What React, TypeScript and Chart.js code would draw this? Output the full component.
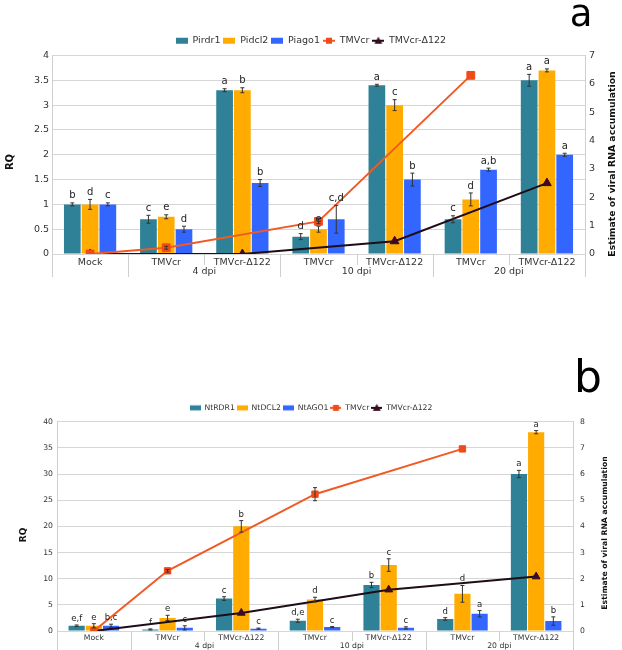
import React, { useEffect, useRef } from 'react';
import { Chart, registerables } from 'chart.js';
Chart.register(...registerables);

const FONT = "'DejaVu Sans', 'Noto Sans', sans-serif";
Chart.defaults.font.family = FONT;

// ---------- shared categories ----------
const categories = ['Mock', 'TMVcr', 'TMVcr-Δ122', 'TMVcr', 'TMVcr-Δ122', 'TMVcr', 'TMVcr-Δ122'];
const dpiGroups = ['', '4 dpi', '4 dpi', '10 dpi', '10 dpi', '20 dpi', '20 dpi'];

// ---------- panel a ----------
const aBarNames = ['Pirdr1', 'Pidcl2', 'Piago1'];
const aPirdr1 = [1.0, 0.7, 3.3, 0.35, 3.4, 0.7, 3.5];
const aPirdr1Err = [0.03, 0.08, 0.03, 0.06, 0.02, 0.07, 0.12];
const aPirdr1Letters = ['b', 'c', 'a', 'd', 'a', 'c', 'a'];
const aPidcl2 = [1.0, 0.75, 3.3, 0.5, 3.0, 1.1, 3.7];
const aPidcl2Err = [0.1, 0.04, 0.05, 0.06, 0.11, 0.13, 0.03];
const aPidcl2Letters = ['d', 'e', 'b', 'e', 'c', 'd', 'a'];
const aPiago1 = [1.0, 0.5, 1.43, 0.7, 1.5, 1.7, 2.0];
const aPiago1Err = [0.03, 0.06, 0.07, 0.28, 0.13, 0.03, 0.03];
const aPiago1Letters = ['c', 'd', 'b', 'c,d', 'b', 'a,b', 'a'];
const aLineNames = ['TMVcr', 'TMVcr-Δ122'];
const aTmvcr = [0, 0.22, null, 1.15, null, 6.3, null];
const aTmvcrErr = [0, 0.05, null, 0.08, null, 0, null];
const aDelta = [0, null, 0, null, 0.45, null, 2.5];
const aDeltaErr = [0, null, 0, null, 0, null, 0];

// ---------- panel b ----------
const bBarNames = ['NtRDR1', 'NtDCL2', 'NtAGO1'];
const bNtrdr1 = [1.0, 0.3, 6.2, 1.95, 8.8, 2.3, 30.0];
const bNtrdr1Err = [0.15, 0.1, 0.35, 0.3, 0.5, 0.25, 0.7];
const bNtrdr1Letters = ['e,f', 'f', 'c', 'd,e', 'b', 'd', 'a'];
const bNtdcl2 = [1.0, 2.5, 20.0, 6.0, 12.6, 7.1, 38.0];
const bNtdcl2Err = [0.4, 0.5, 1.1, 0.45, 1.2, 1.6, 0.3];
const bNtdcl2Letters = ['e', 'e', 'b', 'd', 'c', 'd', 'a'];
const bNtago1 = [1.0, 0.6, 0.45, 0.75, 0.6, 3.3, 1.9];
const bNtago1Err = [0.3, 0.4, 0.1, 0.1, 0.2, 0.6, 0.8];
const bNtago1Letters = ['b,c', 'c', 'c', 'c', 'c', 'a', 'b'];
const bLineNames = ['TMVcr', 'TMVcr-Δ122'];
const bTmvcr = [0, 2.3, null, 5.23, null, 6.96, null];
const bTmvcrErr = [0, 0.05, null, 0.25, null, 0, null];
const bDelta = [0, null, 0.69, null, 1.58, null, 2.08];
const bDeltaErr = [0, null, 0, null, 0, null, 0];

const TEAL = '#2e8196';
const GOLD = '#ffab00';
const BLUE = '#3366ff';
const RED = '#f15a24';
const RED_MARK = '#f04a1a';
const DARK = '#1e0c18';
const DARK_MARK = '#3a0b22';

type Panel = {
  height: number;
  bars: { name: string; values: number[]; errors: number[]; letters: string[]; color: string }[];
  lines: { name: string; values: (number | null)[]; errors: (number | null)[]; color: string; marker: string; style: string; radius: number }[];
  yMax: number; yStep: number; y1Max: number; y1Step: number;
  font: number; letterFont: number;
  leftW: number; rightW: number; bottomH: number; padTop: number; legendPad: number;
  leftTickPad: number; rightTickPad: number; xTickPad: number;
  boxW: number; boxH: number;
  rqX: number; rqY: number; rqFont: number;
  rtX: number; rtY: number; rtFont: number;
  groupDy: number; longSep: number; shortSep: number;
  tag: string; tagX: number; tagY: number; tagFont: number;
};

function legendIcon(kind: string, color: string, marker: string, style: string, w: number, bh: number) {
  const h = 10;
  const c = document.createElement('canvas');
  c.width = w; c.height = h;
  const g = c.getContext('2d')!;
  if (kind === 'bar') {
    g.fillStyle = color;
    g.fillRect(0, (h - bh) / 2, w, bh);
  } else {
    g.strokeStyle = color; g.lineWidth = 2;
    g.beginPath(); g.moveTo(0, h / 2); g.lineTo(w, h / 2); g.stroke();
    g.fillStyle = marker;
    if (style === 'rect') {
      g.fillRect(w / 2 - 3, h / 2 - 3, 6, 6);
    } else {
      g.beginPath(); g.moveTo(w / 2, h / 2 - 4); g.lineTo(w / 2 + 4, h / 2 + 3); g.lineTo(w / 2 - 4, h / 2 + 3); g.closePath(); g.fill();
    }
  }
  return c;
}

function makeExtras(p: Panel) {
  return {
    id: 'extras',
    afterDatasetsDraw(chart: any) {
      const ctx = chart.ctx;
      const ys = chart.scales.y, y1 = chart.scales.y1;
      ctx.save();
      ctx.strokeStyle = '#333'; ctx.lineWidth = 1;
      ctx.fillStyle = '#222';
      ctx.font = `${p.letterFont}px ${FONT}`;
      ctx.textAlign = 'center'; ctx.textBaseline = 'bottom';
      p.bars.forEach((b, di) => {
        const meta = chart.getDatasetMeta(di);
        b.values.forEach((v, i) => {
          const el = meta.data[i];
          const e = b.errors[i];
          const top = ys.getPixelForValue(v + e);
          const bot = ys.getPixelForValue(Math.max(0, v - e));
          ctx.beginPath();
          ctx.moveTo(el.x, top); ctx.lineTo(el.x, bot);
          ctx.moveTo(el.x - 2, top); ctx.lineTo(el.x + 2, top);
          ctx.moveTo(el.x - 2, bot); ctx.lineTo(el.x + 2, bot);
          ctx.stroke();
          ctx.fillText(b.letters[i], el.x, top - 2);
        });
      });
      p.lines.forEach((l, li) => {
        const meta = chart.getDatasetMeta(p.bars.length + li);
        l.values.forEach((v, i) => {
          const e = l.errors[i];
          if (v == null || !e) return;
          const el = meta.data[i];
          const top = y1.getPixelForValue(v + e);
          const bot = y1.getPixelForValue(v - e);
          ctx.beginPath();
          ctx.moveTo(el.x, top); ctx.lineTo(el.x, bot);
          ctx.moveTo(el.x - 2, top); ctx.lineTo(el.x + 2, top);
          ctx.moveTo(el.x - 2, bot); ctx.lineTo(el.x + 2, bot);
          ctx.stroke();
        });
      });
      ctx.restore();
    },
    afterDraw(chart: any) {
      const ctx = chart.ctx;
      const xs = chart.scales.x;
      const ca = chart.chartArea;
      ctx.save();
      ctx.strokeStyle = '#cfcfcf'; ctx.lineWidth = 1;
      const seps: [number, boolean][] = [[ca.left, true], [ca.right, true]];
      for (let i = 0; i < categories.length - 1; i++) {
        const xm = (xs.getPixelForValue(i) + xs.getPixelForValue(i + 1)) / 2;
        seps.push([xm, dpiGroups[i] !== dpiGroups[i + 1]]);
      }
      seps.forEach(([sx, long]) => {
        const xx = Math.round(sx) + 0.5;
        ctx.beginPath();
        ctx.moveTo(xx, ca.bottom);
        ctx.lineTo(xx, ca.bottom + (long ? p.longSep : p.shortSep));
        ctx.stroke();
      });
      ctx.fillStyle = '#333';
      ctx.font = `${p.font}px ${FONT}`;
      ctx.textAlign = 'center'; ctx.textBaseline = 'middle';
      const seen: string[] = [];
      dpiGroups.forEach((g) => {
        if (!g || seen.includes(g)) return;
        seen.push(g);
        const idx = dpiGroups.map((d, i) => (d === g ? i : -1)).filter((i) => i >= 0);
        const cx = idx.reduce((s, i) => s + xs.getPixelForValue(i), 0) / idx.length;
        ctx.fillText(g, cx, ca.bottom + p.groupDy);
      });
      // axis titles
      ctx.fillStyle = '#111';
      ctx.font = `bold ${p.rqFont}px ${FONT}`;
      ctx.save(); ctx.translate(p.rqX, p.rqY); ctx.rotate(-Math.PI / 2); ctx.fillText('RQ', 0, 0); ctx.restore();
      ctx.font = `bold ${p.rtFont}px ${FONT}`;
      ctx.save(); ctx.translate(p.rtX, p.rtY); ctx.rotate(-Math.PI / 2); ctx.fillText('Estimate of viral RNA accumulation', 0, 0); ctx.restore();
      // panel tag
      ctx.fillStyle = '#000';
      ctx.font = `${p.tagFont}px ${FONT}`;
      ctx.textBaseline = 'alphabetic';
      ctx.fillText(p.tag, p.tagX, p.tagY);
      ctx.restore();
    },
  };
}

const fmt = (v: any) => String(Number(v));

function buildChart(canvas: HTMLCanvasElement, p: Panel) {
  const datasets: any[] = [
    ...p.bars.map((b) => ({
      type: 'bar', label: b.name, data: b.values, backgroundColor: b.color, borderWidth: 0,
      yAxisID: 'y', order: 2, barPercentage: 0.94, categoryPercentage: 0.7,
    })),
    ...p.lines.map((l) => ({
      type: 'line', label: l.name, data: l.values, borderColor: l.color, backgroundColor: l.marker,
      pointBackgroundColor: l.marker, pointBorderColor: l.marker, pointBorderWidth: 1,
      pointStyle: l.style, pointRadius: l.radius, borderWidth: 2, spanGaps: true,
      yAxisID: 'y1', order: 1, tension: 0,
    })),
  ];
  const tickFont = { size: p.font, family: FONT };
  return new Chart(canvas, {
    type: 'bar',
    data: { labels: categories, datasets },
    options: {
      responsive: false,
      animation: false,
      layout: { padding: { top: p.padTop, left: 0, right: 0, bottom: 0 } },
      plugins: {
        tooltip: { enabled: false },
        legend: {
          position: 'top',
          labels: {
            usePointStyle: true,
            pointStyleWidth: p.boxW,
            padding: p.legendPad,
            color: '#333',
            font: { size: p.font, family: FONT },
            generateLabels: () => [
              ...p.bars.map((b, i) => ({
                text: b.name, fillStyle: b.color, strokeStyle: b.color, lineWidth: 0, hidden: false, datasetIndex: i,
                pointStyle: legendIcon('bar', b.color, b.color, '', p.boxW, p.boxH), fontColor: '#333',
              })),
              ...p.lines.map((l, i) => ({
                text: l.name, fillStyle: l.color, strokeStyle: l.color, lineWidth: 0, hidden: false, datasetIndex: p.bars.length + i,
                pointStyle: legendIcon('line', l.color, l.marker, l.style, p.boxW, p.boxH), fontColor: '#333',
              })),
            ],
          },
        },
      },
      scales: {
        x: {
          grid: { display: false, drawTicks: false },
          border: { display: false },
          ticks: { font: tickFont, color: '#333', maxRotation: 0, autoSkip: false, padding: p.xTickPad },
          afterFit: (s: any) => { s.height = p.bottomH; },
        },
        y: {
          position: 'left', min: 0, max: p.yMax,
          ticks: { stepSize: p.yStep, font: tickFont, color: '#333', padding: p.leftTickPad, callback: fmt },
          grid: { color: '#d6d6d6', drawTicks: false },
          border: { display: true, color: '#cfcfcf' },
          afterFit: (s: any) => { s.width = p.leftW; },
        },
        y1: {
          position: 'right', min: 0, max: p.y1Max,
          ticks: { stepSize: p.y1Step, font: tickFont, color: '#333', padding: p.rightTickPad, callback: fmt },
          grid: { display: false, drawTicks: false },
          border: { display: true, color: '#cfcfcf' },
          afterFit: (s: any) => { s.width = p.rightW; },
        },
      },
    } as any,
    plugins: [makeExtras(p)],
  });
}

const panelA: Panel = {
  height: 300,
  bars: [
    { name: aBarNames[0], values: aPirdr1, errors: aPirdr1Err, letters: aPirdr1Letters, color: TEAL },
    { name: aBarNames[1], values: aPidcl2, errors: aPidcl2Err, letters: aPidcl2Letters, color: GOLD },
    { name: aBarNames[2], values: aPiago1, errors: aPiago1Err, letters: aPiago1Letters, color: BLUE },
  ],
  lines: [
    { name: aLineNames[0], values: aTmvcr, errors: aTmvcrErr, color: RED, marker: RED_MARK, style: 'rect', radius: 5.5 },
    { name: aLineNames[1], values: aDelta, errors: aDeltaErr, color: DARK, marker: DARK_MARK, style: 'triangle', radius: 5 },
  ],
  yMax: 4, yStep: 0.5, y1Max: 7, y1Step: 1,
  font: 9.5, letterFont: 10,
  leftW: 52, rightW: 37, bottomH: 46, padTop: 33, legendPad: 3,
  leftTickPad: 3, rightTickPad: 4, xTickPad: 3,
  boxW: 12, boxH: 6,
  rqX: 10, rqY: 162, rqFont: 10,
  rtX: 613, rtY: 164, rtFont: 9.3,
  groupDy: 18, longSep: 23, shortSep: 11,
  tag: 'a', tagX: 581, tagY: 26, tagFont: 37,
};

const panelB: Panel = {
  height: 350,
  bars: [
    { name: bBarNames[0], values: bNtrdr1, errors: bNtrdr1Err, letters: bNtrdr1Letters, color: TEAL },
    { name: bBarNames[1], values: bNtdcl2, errors: bNtdcl2Err, letters: bNtdcl2Letters, color: GOLD },
    { name: bBarNames[2], values: bNtago1, errors: bNtago1Err, letters: bNtago1Letters, color: BLUE },
  ],
  lines: [
    { name: bLineNames[0], values: bTmvcr, errors: bTmvcrErr, color: RED, marker: RED_MARK, style: 'rect', radius: 4.5 },
    { name: bLineNames[1], values: bDelta, errors: bDeltaErr, color: DARK, marker: DARK_MARK, style: 'triangle', radius: 4.5 },
  ],
  yMax: 40, yStep: 5, y1Max: 8, y1Step: 1,
  font: 7.7, letterFont: 8.5,
  leftW: 57, rightW: 49, bottomH: 19, padTop: 102, legendPad: 2,
  leftTickPad: 4, rightTickPad: 7, xTickPad: 2,
  boxW: 11, boxH: 5,
  rqX: 24, rqY: 235, rqFont: 9,
  rtX: 605, rtY: 233, rtFont: 7.7,
  groupDy: 15, longSep: 19, shortSep: 10,
  tag: 'b', tagX: 588, tagY: 92, tagFont: 44,
};

function PanelChart({ p }: { p: Panel }) {
  const ref = useRef<HTMLCanvasElement>(null);
  useEffect(() => {
    if (!ref.current) return;
    const c = buildChart(ref.current, p);
    return () => c.destroy();
  }, [p]);
  return <canvas ref={ref} width={622} height={p.height} style={{ display: 'block', width: 622, height: p.height }} />;
}

export default function App() {
  return (
    <div style={{ position: 'absolute', left: 0, top: 0, width: 622, height: 650, background: '#fff' }}>
      <PanelChart p={panelA} />
      <PanelChart p={panelB} />
    </div>
  );
}
